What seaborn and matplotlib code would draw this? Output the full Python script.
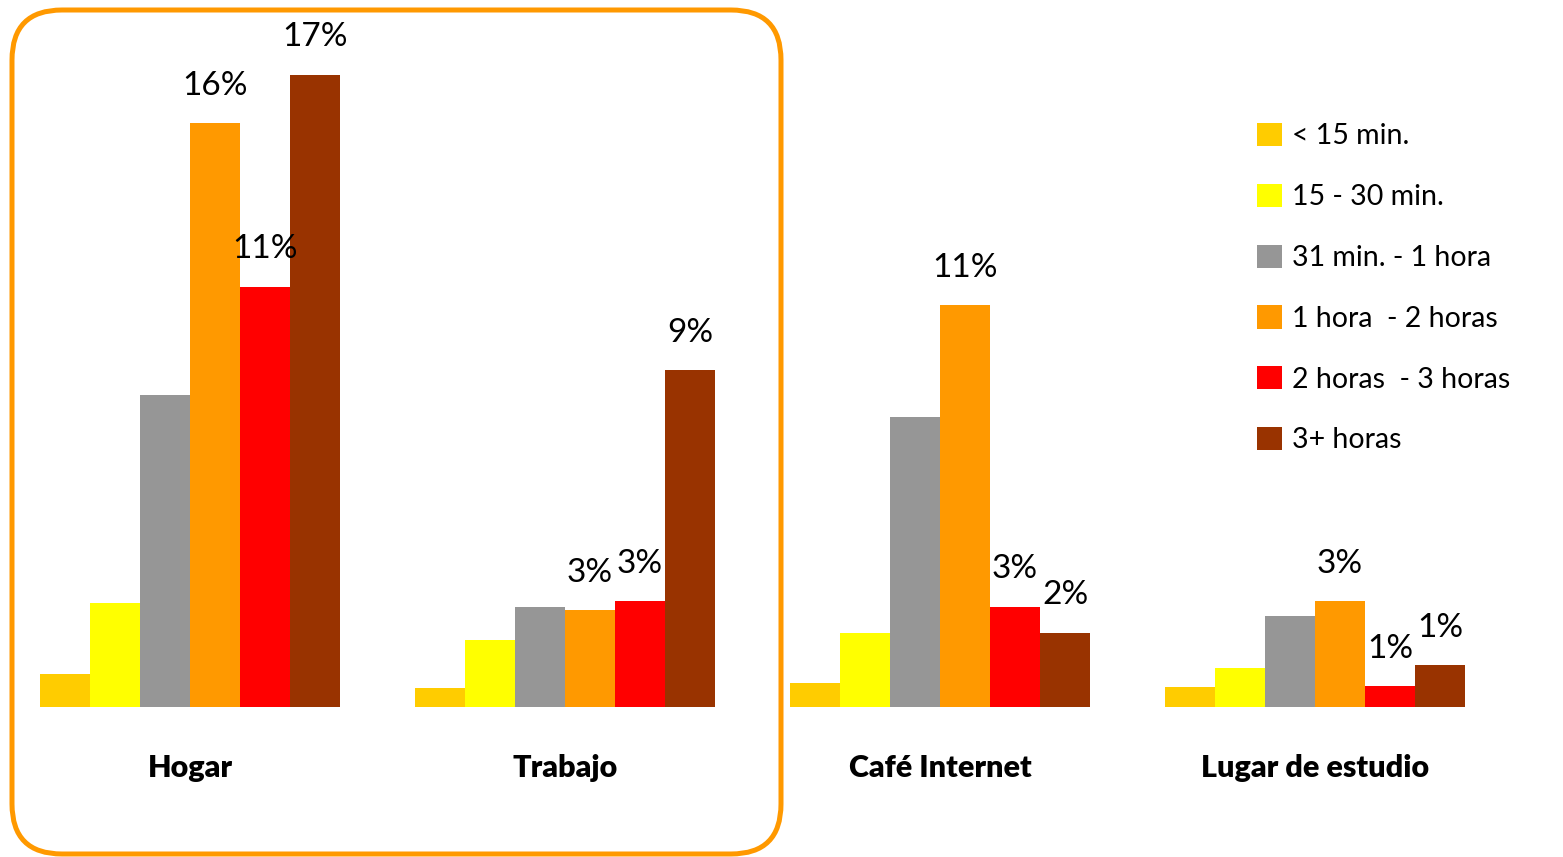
import matplotlib
matplotlib.use("Agg")
import matplotlib.pyplot as plt
from matplotlib.patches import FancyBboxPatch, Patch
import seaborn as sns
import pandas as pd

# Places where people connect and time spent per session (% of respondents)
lugares = ["Hogar", "Trabajo", "Café Internet", "Lugar de estudio"]
tiempos = ["< 15 min.", "15 - 30 min.", "31 min. - 1 hora",
           "1 hora  - 2 horas", "2 horas  - 3 horas", "3+ horas"]
colores = ["#FFCC00", "#FFFF00", "#969696", "#FF9900", "#FF0000", "#993300"]

menos_15 = [0.9, 0.5, 0.65, 0.55]
de_15_30 = [2.8, 1.8, 2.0, 1.05]
de_31_60 = [8.4, 2.7, 7.8, 2.45]
de_1_2h = [15.7, 2.6, 10.8, 2.85]
de_2_3h = [11.3, 2.85, 2.7, 0.56]
mas_3h = [17.0, 9.05, 2.0, 1.13]
series = [menos_15, de_15_30, de_31_60, de_1_2h, de_2_3h, mas_3h]

# series whose bars carry a percentage label
etiquetadas = ["1 hora  - 2 horas", "2 horas  - 3 horas", "3+ horas"]

filas = []
for t, vals in zip(tiempos, series):
    for l, v in zip(lugares, vals):
        filas.append({"lugar": l, "tiempo": t, "valor": v})
df = pd.DataFrame(filas)

sns.set_style("white")
plt.rcParams["font.family"] = ["Lato", "DejaVu Sans"]
plt.rcParams["text.color"] = "black"
plt.rcParams["xtick.color"] = "black"

W, H = 1563, 857
fig = plt.figure(figsize=(W / 100, H / 100), dpi=100)
ax = fig.add_axes([2.5 / W, 150 / H, 1500 / W, 697 / H])

sns.barplot(data=df, x="lugar", y="valor", hue="tiempo", order=lugares,
            hue_order=tiempos, palette=colores, width=0.8, saturation=1,
            linewidth=0, legend=False, ax=ax)

ax.set_ylim(0, 18.74)
ax.set_xlim(-0.5, 3.5)
ax.set_xlabel("")
ax.set_ylabel("")
ax.set_yticks([])
for s in ax.spines.values():
    s.set_visible(False)
ax.tick_params(axis="x", length=0, pad=34, labelcolor="black")
for lab in ax.get_xticklabels():
    lab.set_fontsize(22)
    lab.set_fontweight("heavy")
    lab.set_color("black")

for t, cont in zip(tiempos, ax.containers):
    if t in etiquetadas:
        ax.bar_label(cont, labels=[f"{b.get_height():.0f}%" for b in cont],
                     padding=16, fontsize=24, color="black")

handles = [Patch(facecolor=c, edgecolor="none") for c in colores]
leg = fig.legend(handles, tiempos, loc="upper left",
                 bbox_to_anchor=(1257 / W, 1 - 123 / H), frameon=False,
                 fontsize=20.5, handlelength=0.88, handleheight=0.88,
                 handletextpad=0.36, labelspacing=1.205, borderpad=0,
                 borderaxespad=0)
for txt in leg.get_texts():
    txt.set_color("black")

# rounded frame around the first two groups
marco = FancyBboxPatch((12 / 100, 3 / 100), (781 - 12) / 100, (847 - 3) / 100,
                       boxstyle="round,pad=0,rounding_size=0.5",
                       transform=fig.dpi_scale_trans, fill=False,
                       edgecolor="#FF9900", linewidth=3.6, zorder=10)
fig.patches.append(marco)

fig.savefig("out.png", dpi=100)
